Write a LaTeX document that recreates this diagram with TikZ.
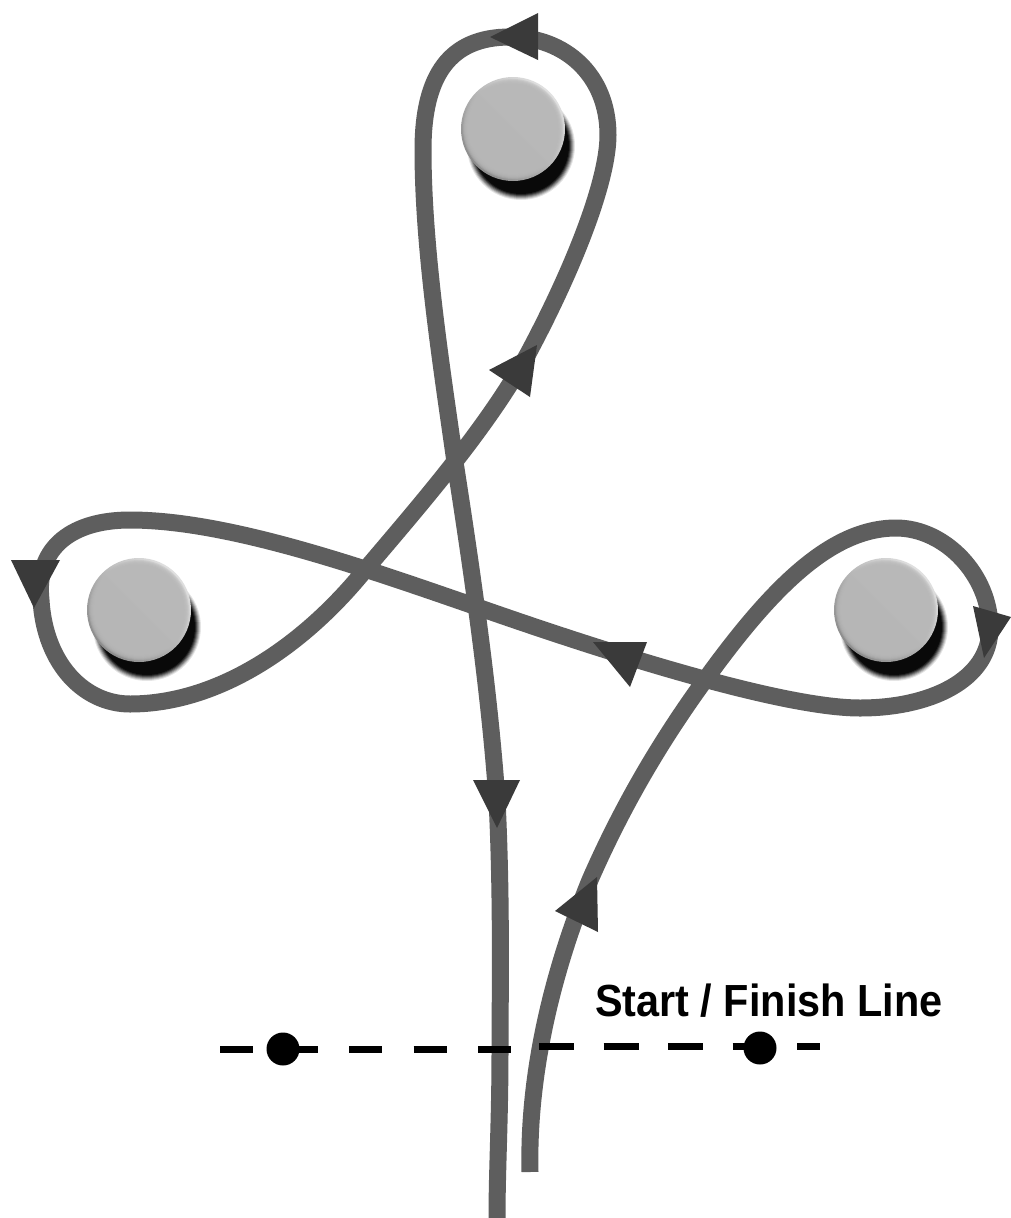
\documentclass[tikz,border=0pt]{standalone}
\usepackage{fontspec}
\setmainfont{Liberation Sans}
\definecolor{trk}{HTML}{5E5E5E}
\definecolor{hd}{HTML}{3A3A3A}
\tikzset{
  x=1pt,y=-1pt,
  trackline/.style={draw=trk,line width=17pt,line join=round},
  head/.style={fill=hd,draw=none},
  dashline/.style={draw=black,line width=7pt},
  dot/.style={circle,fill=black,inner sep=0pt,minimum size=33pt},
  lab/.style={font=\bfseries\fontsize{45}{45}\selectfont,text=black,inner sep=0pt,anchor=base west,xscale=0.92},
}
\newcommand{\pylon}[2]{%
  \foreach \r/\o in {54/10,53/15,52/20,51/25,50/35,49/50,48/70,47/100}{
    \fill[black,opacity=0.\o] (#1+8,#2+17) circle[radius=\r pt];
  }
  \shade[left color=white!88!black,right color=black!45,shading angle=-45] (#1,#2) circle[radius=52pt];
  \foreach \r in {50,49,48,47,46,45,44,43}{
    \fill[fill=black!28,opacity=0.4] (#1,#2) circle[radius=\r pt];
  }
}
\begin{document}
\begin{tikzpicture}
\useasboundingbox (0,0) rectangle (1011,1218);
\fill[white] (0,0) rectangle (1011,1218);
\pylon{513}{129}
\pylon{139}{610}
\pylon{886}{610}
% dashed start / finish line
\coordinate (la) at (220,1049);
\coordinate (lb) at (511,1049);
\coordinate (ra) at (539,1046);
\coordinate (rb) at (820,1046);
\node[dot] (dl) at (283,1049) {};
\node[dot] (dr) at (760,1048) {};
% track
\draw[trackline] (530,1172)
 .. controls (528,1090) and (545,990) .. (590,880)
 .. controls (625,800) and (665,735) .. (705,680)
 .. controls (770,590) and (830,528) .. (896,528)
 .. controls (945,528) and (990,575) .. (990,628)
 .. controls (990,680) and (930,708) .. (860,708)
 .. controls (780,708) and (600,650) .. (480,608)
 .. controls (370,570) and (230,520) .. (130,520)
 .. controls (75,520) and (35,545) .. (41,600)
 .. controls (45,665) and (85,704) .. (130,704)
 .. controls (215,704) and (300,650) .. (365,570)
 .. controls (420,505) and (490,425) .. (530,350)
 .. controls (575,265) and (608,180) .. (608,135)
 .. controls (608,75) and (565,37) .. (510,37)
 .. controls (450,37) and (423,75) .. (423,150)
 .. controls (423,250) and (442,370) .. (455,462)
 .. controls (475,590) and (490,700) .. (497,800)
 .. controls (502,900) and (500,1000) .. (500,1050)
 .. controls (500,1120) and (497,1170) .. (497,1218);
\draw[dashline,dash pattern=on 33pt off 31.5pt] (la) -- (lb);
\draw[dashline,dash pattern=on 35pt off 29.5pt] (ra) -- (rb);
% arrowheads
\fill[head] (490,37) -- (538,13) -- (538,60) -- cycle;
\fill[head] (973,606) -- (1011,617) -- (984,658) -- cycle;
\fill[head] (11,560) -- (60,560) -- (34,608) -- cycle;
\fill[head] (489,370) -- (537,345) -- (530,397) -- cycle;
\fill[head] (593,642) -- (647,642) -- (630,687) -- cycle;
\fill[head] (473,780) -- (520,780) -- (497,828) -- cycle;
\fill[head] (555,911) -- (597,877) -- (598,932) -- cycle;
\node[lab] (t) at (595,1016) {Start / Finish Line};
\end{tikzpicture}
\end{document}
